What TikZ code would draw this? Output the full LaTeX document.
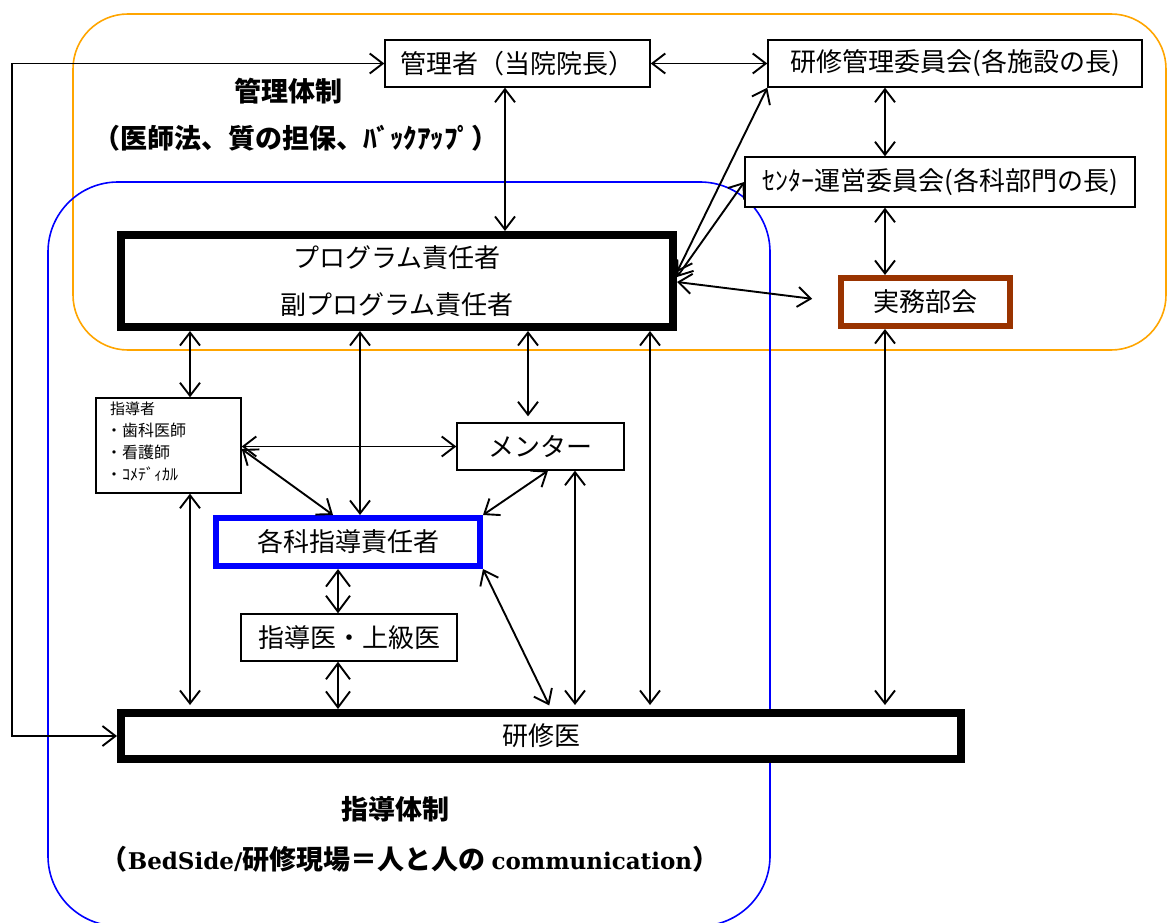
\documentclass[tikz,border=0pt]{standalone}
\usepackage{fontspec}
\setmainfont{Liberation Serif}
\newfontfamily\jp{Noto Sans CJK JP}
\newfontfamily\lat{DejaVu Serif}
\usetikzlibrary{arrows.meta,calc}
\definecolor{orangeline}{RGB}{255,165,0}
\definecolor{brownline}{RGB}{153,51,0}
\tikzset{
  box/.style={draw, fill=white, line width=1.4pt, inner sep=0pt, font=\jp\fontsize{26}{30}\selectfont},
  heavybox/.style={box, line width=8pt},
  conn/.style={line width=1.9pt, {Straight Barb[length=13pt,width=20pt]}-{Straight Barb[length=13pt,width=20pt]}},
  fatconn/.style={line width=1.9pt, {Straight Barb[length=16pt,width=24pt]}-{Straight Barb[length=16pt,width=24pt]}},
  title/.style={font=\jp\bfseries\fontsize{27}{32}\selectfont},
}
\begin{document}
\begin{tikzpicture}[x=1pt,y=-1pt]
\useasboundingbox (0,0) rectangle (1168,923);
\begin{scope}
\clip (0,0) rectangle (1168,923);
% group outlines
\draw[orangeline, line width=1.6pt, rounded corners=55pt] (73,14) rectangle (1166,350);
\draw[blue, line width=1.6pt, rounded corners=70pt] (48,182) rectangle (770,926);
\end{scope}

% titles
\node[title] (t1) at (288,91) {管理体制};
\node[title] (t2) at (296,138) {（医師法、質の担保、ﾊﾞｯｸｱｯﾌﾟ）};
\node[title] (t3) at (395,809) {指導体制};
\node[title] (t4) at (410,859) {（{\lat\bfseries\fontsize{23}{28}\selectfont BedSide/}研修現場＝人と人の {\lat\bfseries\fontsize{23}{28}\selectfont communication}）};

% boxes
\node[box, minimum width=265pt, minimum height=47pt] (mgr) at (517.5,63.5) {管理者（当院院長）};
\node[box, minimum width=374pt, minimum height=47pt] (kenkan) at (955,63.5) {研修管理委員会(各施設の長)};
\node[box, minimum width=390pt, minimum height=50pt] (center) at (940,182) {ｾﾝﾀｰ運営委員会(各科部門の長)};
\node[heavybox, minimum width=552pt, minimum height=92pt, align=center, font=\jp\fontsize{26}{47}\selectfont] (prog) at (397,281) {プログラム責任者\\副プログラム責任者};
\node[box, draw=brownline, line width=6pt, minimum width=169pt, minimum height=48pt] (jimu) at (925.5,302) {実務部会};
\node[box, minimum width=145pt, minimum height=95pt] (shido) at (168.5,445.5) {};
\node[anchor=north west, align=left, inner sep=0pt, font=\jp\fontsize{15}{22}\selectfont] (shidotext) at (106,402) {\hspace*{4pt}指導者\\{\fontsize{16}{22}\selectfont ・歯科医師}\\{\fontsize{16}{22}\selectfont ・看護師}\\{\fontsize{16}{22}\selectfont ・ｺﾒﾃﾞｨｶﾙ}};
\node[box, minimum width=167pt, minimum height=47pt] (mentor) at (540.5,446.5) {メンター};
\node[box, draw=blue, line width=6pt, minimum width=264pt, minimum height=48pt] (kakka) at (348,542) {各科指導責任者};
\node[box, minimum width=216pt, minimum height=47pt] (shidoi) at (349,637.5) {指導医・上級医};
\node[heavybox, minimum width=840pt, minimum height=46pt] (kenshui) at (541,736) {\raisebox{-3pt}{研修医}};

% loop on the left
\coordinate (L) at (12,400);
\draw[conn] (kenshui.west) -| (L) |- (mgr.west);

% top connectors
\draw[conn] (mgr.east) -- (kenkan.west);
\draw[conn] (mgr.south -| 505,0) -- (prog.north -| 505,0);
\draw[conn] (kenkan.south -| 885,0) -- (center.north -| 885,0);
\draw[conn] (center.south -| 885,0) -- (jimu.north -| 885,0);
\draw[conn] (kenkan.south west) -- (prog.east |- 0,272);
\draw[conn] (center.west) -- (prog.east |- 0,277);
\draw[conn, shorten >=26pt] (prog.east |- 0,282) -- (jimu.west);

% from program box downward
\draw[conn] (prog.south -| 190,0) -- (shido.north -| 190,0);
\draw[conn] (prog.south -| 360,0) -- (kakka.north -| 360,0);
\draw[conn, shorten >=6pt] (prog.south -| 528,0) -- (mentor.north -| 528,0);
\draw[conn, shorten >=4pt] (prog.south -| 650,0) -- (kenshui.north -| 650,0);
\draw[conn, shorten >=4pt] (jimu.south -| 885,0) -- (kenshui.north -| 885,0);

% middle
\draw[conn] (shido.east |- mentor.west) -- (mentor.west);
\draw[conn] (shido.east |- 0,449) -- (kakka.north -| 333,0);
\draw[conn] (mentor.south -| 548,0) -- (kakka.north east);
\draw[conn, shorten >=4pt] (mentor.south -| 575,0) -- (kenshui.north -| 575,0);
\draw[conn, shorten >=4pt] (kakka.south east) -- (kenshui.north -| 551,0);
\draw[conn, shorten >=4pt] (shido.south -| 190,0) -- (kenshui.north -| 190,0);

% hollow double arrows
\draw[fatconn] (kakka.south -| 338,0) -- (shidoi.north -| 338,0);
\draw[fatconn] (shidoi.south -| 338,0) -- (kenshui.north -| 338,0);
\end{tikzpicture}
\end{document}
